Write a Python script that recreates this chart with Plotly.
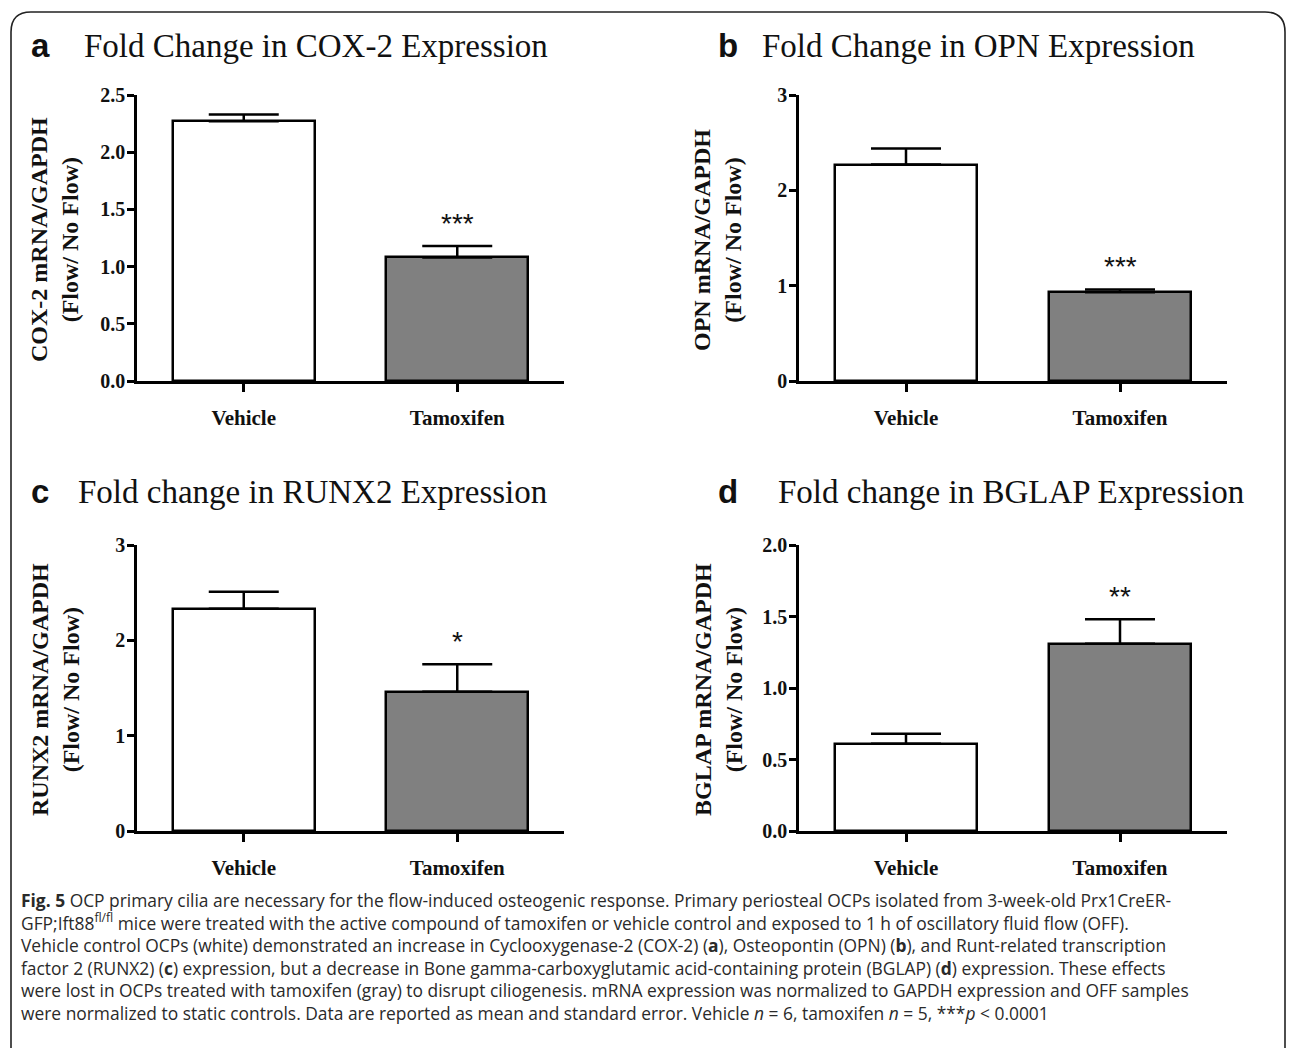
import plotly.graph_objects as go

W, H = 1290, 1048

# ---------------- data ----------------
categories = ["Vehicle", "Tamoxifen"]
cox2_mean = [2.27, 1.08]
cox2_sem = [0.06, 0.10]
opn_mean = [2.27, 0.93]
opn_sem = [0.17, 0.03]
runx2_mean = [2.33, 1.46]
runx2_sem = [0.18, 0.29]
bglap_mean = [0.61, 1.31]
bglap_sem = [0.07, 0.17]
significance = ["***", "***", "*", "**"]
panel_letters = ["a", "b", "c", "d"]
panel_titles = [
    "Fold Change in COX-2 Expression",
    "Fold Change in OPN Expression",
    "Fold change in RUNX2 Expression",
    "Fold change in BGLAP Expression",
]
y_titles = [
    "COX-2 mRNA/GAPDH<br>(Flow/ No Flow)",
    "OPN mRNA/GAPDH<br>(Flow/ No Flow)",
    "RUNX2 mRNA/GAPDH<br>(Flow/ No Flow)",
    "BGLAP mRNA/GAPDH<br>(Flow/ No Flow)",
]
y_max = [2.5, 3, 3, 2.0]
y_dtick = [0.5, 1, 1, 0.5]
y_fmt = [".1f", "d", "d", ".1f"]
caption_lines = [
    "<b>Fig. 5</b> OCP primary cilia are necessary for the flow-induced osteogenic response. Primary periosteal OCPs isolated from 3-week-old Prx1CreER-",
    "GFP;Ift88<sup>fl/fl</sup> mice were treated with the active compound of tamoxifen or vehicle control and exposed to 1 h of oscillatory fluid flow (OFF).",
    "Vehicle control OCPs (white) demonstrated an increase in Cyclooxygenase-2 (COX-2) (<b>a</b>), Osteopontin (OPN) (<b>b</b>), and Runt-related transcription",
    "factor 2 (RUNX2) (<b>c</b>) expression, but a decrease in Bone gamma-carboxyglutamic acid-containing protein (BGLAP) (<b>d</b>) expression. These effects",
    "were lost in OCPs treated with tamoxifen (gray) to disrupt ciliogenesis. mRNA expression was normalized to GAPDH expression and OFF samples",
    "were normalized to static controls. Data are reported as mean and standard error. Vehicle <i>n</i> = 6, tamoxifen <i>n</i> = 5, ***<i>p</i> &lt; 0.0001",
]
bar_colors = ["#ffffff", "#808080"]

means = [cox2_mean, opn_mean, runx2_mean, bglap_mean]
sems = [cox2_sem, opn_sem, runx2_sem, bglap_sem]

# ---------------- layout geometry (page pixels) ----------------
boxes = [  # x0, x1, y0(top), y1(bottom)
    (137, 564, 95, 381),
    (799, 1227, 95, 381),
    (137, 564, 545, 831),
    (799, 1227, 545, 831),
]
title_y = [46, 46, 492, 492]
letter_x = [29, 716, 29, 716]
title_x = [82, 760, 76, 776]
ytitle_x = [55, 718, 55, 718]

SERIF = "Liberation Serif"
SANS = "Liberation Sans"
CAPTION_SIZE = 17.4


def px(x):
    return x / W


def py(y):
    return 1 - y / H


fig = go.Figure()
annotations = []
layout = {}

for i in range(4):
    x0, x1, y0, y1 = boxes[i]
    n = "" if i == 0 else str(i + 1)
    xa, ya = "x" + n, "y" + n
    fig.add_trace(go.Bar(
        x=[0, 1], y=means[i],
        width=0.664,
        marker=dict(color=bar_colors, line=dict(color="black", width=2.5)),
        error_y=dict(type="data", symmetric=False, array=sems[i], arrayminus=[0, 0],
                     color="black", thickness=2.5, width=35),
        xaxis=xa, yaxis=ya, showlegend=False, hoverinfo="skip",
    ))
    layout["xaxis" + n] = dict(
        domain=[px(x0), px(x1)], anchor=ya, range=[-0.5, 1.5],
        tickmode="array", tickvals=[0, 1], ticktext=categories,
        showline=True, linecolor="black", linewidth=2.5,
        ticks="outside", ticklen=8, tickwidth=2.5, tickcolor="black",
        ticklabelstandoff=8, automargin=False,
        tickfont=dict(family=SERIF, size=21, color="#111", weight="bold"),
        showgrid=False, zeroline=False, fixedrange=True,
    )
    layout["yaxis" + n] = dict(
        domain=[py(y1), py(y0)], anchor=xa, range=[0, y_max[i]],
        dtick=y_dtick[i], tick0=0, tickformat=y_fmt[i],
        showline=True, linecolor="black", linewidth=2.5,
        ticks="outside", ticklen=7, tickwidth=2.5, tickcolor="black",
        ticklabelstandoff=-2, automargin=False,
        tickfont=dict(family=SERIF, size=20, color="#111", weight="bold"),
        showgrid=False, zeroline=False, fixedrange=True,
    )
    # significance stars above tamoxifen error bar
    annotations.append(dict(
        x=1, y=means[i][1] + sems[i][1], xref=xa, yref=ya,
        text=significance[i], showarrow=False, yanchor="bottom", yshift=5,
        font=dict(family=SANS, size=28, color="#111"),
    ))
    # panel letter + title
    annotations.append(dict(
        x=px(letter_x[i]), y=py(title_y[i]), xref="paper", yref="paper",
        text="<b>" + panel_letters[i] + "</b>", showarrow=False,
        xanchor="left", yanchor="middle",
        font=dict(family=SANS, size=33, color="#111"),
    ))
    annotations.append(dict(
        x=px(title_x[i]), y=py(title_y[i]), xref="paper", yref="paper",
        text=panel_titles[i], showarrow=False,
        xanchor="left", yanchor="middle",
        font=dict(family=SERIF, size=33, color="#111"),
    ))
    # y axis title
    annotations.append(dict(
        x=px(ytitle_x[i]), y=py((y0 + y1) / 2 + 2), xref="paper", yref="paper",
        text="<b>" + y_titles[i] + "</b>", showarrow=False, textangle=-90,
        xanchor="center", yanchor="middle",
        font=dict(family=SERIF, size=24, color="#111"),
    ))

# caption (one multi-line text block)
n_lines = len(caption_lines)
line_h = 1.3 * CAPTION_SIZE
annotations.append(dict(
    x=px(19), y=py(900 + line_h * (n_lines - 1) / 2), xref="paper", yref="paper",
    text="<br>".join(caption_lines), showarrow=False,
    xanchor="left", yanchor="middle", align="left",
    font=dict(family="Open Sans", size=CAPTION_SIZE, color="#2a2a2a"),
))

# outer rounded frame
r = 20
L, T, R, B = 11, 12, 1285, 1060
path = (f"M {px(L)},{py(B)} L {px(L)},{py(T + r)} Q {px(L)},{py(T)} {px(L + r)},{py(T)} "
        f"L {px(R - r)},{py(T)} Q {px(R)},{py(T)} {px(R)},{py(T + r)} L {px(R)},{py(B)}")
shapes = [dict(type="path", xref="paper", yref="paper", path=path,
               line=dict(color="#222", width=1.6))]

fig.update_layout(
    template="none",
    width=W, height=H,
    margin=dict(l=0, r=0, t=0, b=0, pad=0, autoexpand=False),
    paper_bgcolor="white", plot_bgcolor="white",
    annotations=annotations, shapes=shapes,
    bargap=0, **layout,
)

fig.write_html(
    "out.html",
    config={"displayModeBar": False},
    post_script="document.body.style.margin='0';document.body.style.padding='0';"
                "document.documentElement.style.overflow='hidden';",
)
